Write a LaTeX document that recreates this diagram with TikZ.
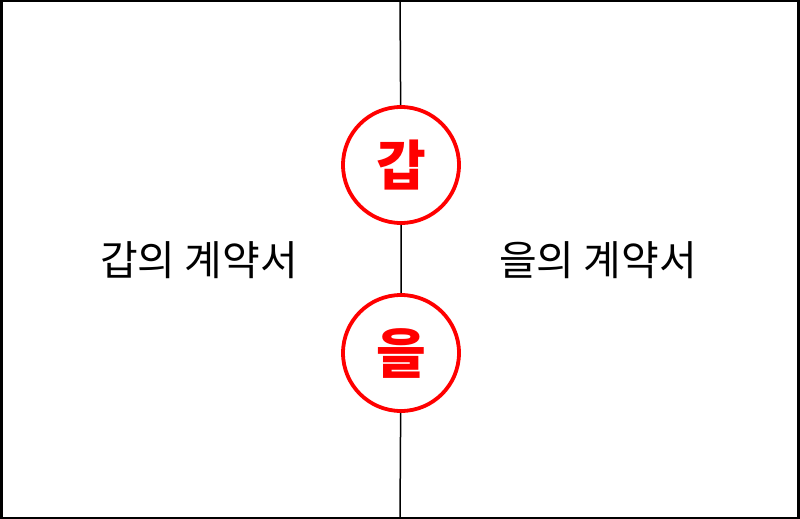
\documentclass[tikz,border=0pt]{standalone}
\usepackage{fontspec}
\newfontfamily\krfont{Noto Sans CJK KR}
\usetikzlibrary{positioning}
\tikzset{
    party/.style={
           circle,
           draw=red, line width=3.8pt,
           fill=white,
           minimum size=116pt,
           inner sep=0pt,
           text=red,
           font=\krfont\bfseries\fontsize{54}{58}\selectfont,
           },
    contract/.style={
           rectangle,
           inner sep=0pt,
           font=\krfont\fontsize{41}{46}\selectfont,
           text centered,
           },
}
\begin{document}
\begin{tikzpicture}
[
x=1pt,y=-1pt
]

 % frame of the page
 \useasboundingbox (0,0) rectangle (800,519);
 \draw[line width=2.5pt] (1.25,1.25) rectangle (798.25,517.75);

 % ends of the middle line
 \coordinate (TOP) at (400,0);
 \coordinate (BOTTOM) at (400,519);

 % the two parties
 \node[party] (GAP) at (401,165) {갑};
 \node[party] (EUL) at (401,353) {을};

 % the two contracts
 \node[contract] (GAPDOC) at (199,260) {갑의 계약서};
 \node[contract] (EULDOC) at (598,260) {을의 계약서};

 % middle line through both circles
 \draw[line width=1.5pt] (TOP) -- (GAP) -- (EUL) -- (BOTTOM);

\end{tikzpicture}
\end{document}
